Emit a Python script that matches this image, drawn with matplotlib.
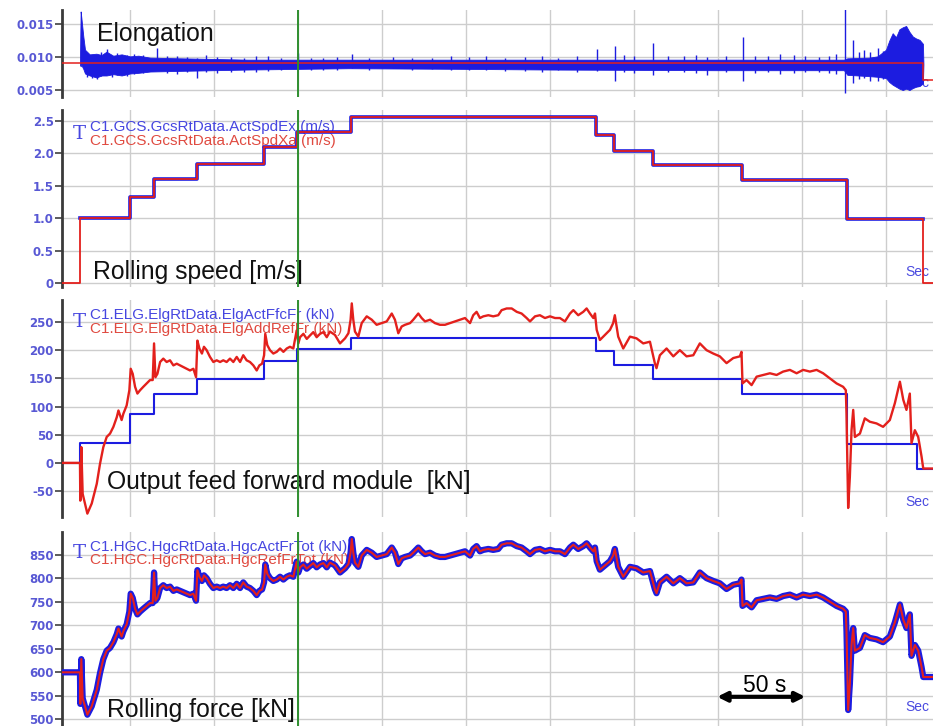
import numpy as np
import matplotlib
matplotlib.use("Agg")
import matplotlib.pyplot as plt

# ---- data (time in s) ----
# elongation: noisy blue signal given as envelope + single spikes, red reference
elong_t = [20.2, 20.6, 21.0, 22.2, 23.2, 26, 30, 33, 36, 40, 45, 50, 55, 62, 80, 100, 120, 150, 180,
           250, 300, 400, 475, 477, 490, 495, 500, 502, 504, 506, 508, 510, 512, 514, 516, 518, 520, 522, 522.3]
elong_lo = [0.0088, 0.0086, 0.0088, 0.0082, 0.0075, 0.0072, 0.0069, 0.0072, 0.0072, 0.0074, 0.0072, 0.0075,
            0.0076, 0.0078, 0.0079, 0.0080, 0.0081, 0.0082, 0.0083, 0.0082, 0.0081, 0.0080, 0.0080, 0.0073,
            0.0071, 0.0070, 0.0068, 0.0062, 0.0058, 0.0055, 0.0052, 0.0050, 0.0052, 0.0050, 0.0053, 0.0055,
            0.0056, 0.0060, 0.0088]
elong_hi = [0.0095, 0.0169, 0.0160, 0.0131, 0.0111, 0.0104, 0.0105, 0.0103, 0.0108, 0.0102, 0.0104, 0.0101,
            0.0102, 0.0099, 0.0098, 0.0097, 0.0096, 0.0096, 0.0096, 0.0096, 0.0096, 0.0096, 0.0096, 0.0098,
            0.0099, 0.0101, 0.0111, 0.0125, 0.0136, 0.0130, 0.0142, 0.0145, 0.0147, 0.0138, 0.0131, 0.0128,
            0.0126, 0.0120, 0.0090]
spike_t = [24.5, 27.5, 30.2, 33.0, 36.1, 39.0, 42.0, 48.0, 52.5, 58.0, 65.9, 72.0, 78.0, 84.0, 89.7, 95.0,
           102.0, 110.0, 118.0, 125.0, 132.0, 140.0, 150.2, 158.0, 165.0, 173.0, 181.9, 192.0, 206.7,
           218.0, 230.0, 241.0, 252.0, 262.0, 273.0, 285.0, 295.0, 305.0, 316.0, 327.7, 338.6, 344.0,
           350.0, 361.1, 370.0, 380.0, 387.0, 393.2, 405.0, 414.6, 422.0, 430.0, 437.0, 445.0, 452.0,
           460.0, 466.0, 470.0, 475.5, 480.5, 484.0, 487.0, 490.4, 495.4, 498.0]
spike_lo = [0.0070, 0.0068, 0.0066, 0.0071, 0.0074, 0.0070, 0.0073, 0.0071, 0.0074, 0.0076, 0.0080, 0.0076,
            0.0075, 0.0077, 0.0068, 0.0078, 0.0076, 0.0077, 0.0078, 0.0077, 0.0079, 0.0080, 0.0082, 0.0080,
            0.0081, 0.0081, 0.0083, 0.0081, 0.0084, 0.0081, 0.0082, 0.0080, 0.0081, 0.0080, 0.0079, 0.0079,
            0.0078, 0.0080, 0.0078, 0.0079, 0.0063, 0.0077, 0.0076, 0.0072, 0.0077, 0.0077, 0.0076, 0.0073,
            0.0077, 0.0063, 0.0076, 0.0077, 0.0075, 0.0076, 0.0077, 0.0077, 0.0076, 0.0075, 0.0046, 0.0060,
            0.0066, 0.0068, 0.0064, 0.0063, 0.0066]
spike_hi = [0.0106, 0.0103, 0.0100, 0.0107, 0.0112, 0.0101, 0.0106, 0.0103, 0.0104, 0.0103, 0.0114, 0.0102,
            0.0101, 0.0100, 0.0098, 0.0103, 0.0100, 0.0100, 0.0099, 0.0101, 0.0101, 0.0099, 0.0106, 0.0099,
            0.0099, 0.0100, 0.0105, 0.0099, 0.0100, 0.0099, 0.0099, 0.0101, 0.0100, 0.0101, 0.0099, 0.0100,
            0.0102, 0.0099, 0.0101, 0.0112, 0.0116, 0.0103, 0.0102, 0.0121, 0.0101, 0.0101, 0.0103, 0.0100,
            0.0102, 0.0130, 0.0101, 0.0101, 0.0104, 0.0103, 0.0101, 0.0100, 0.0102, 0.0104, 0.0180, 0.0126,
            0.0108, 0.0110, 0.0108, 0.0113, 0.0109]
elong_ref_t = [9.5, 522.2, 528]
elong_ref = [0.0091, 0.0065, 0.0065]

# rolling speed steps (m/s)
speed_t = [9.5, 20.2, 50.0, 64.3, 89.9, 129.8, 149.4, 181.5, 327.4, 338.1, 361.3, 414.3, 476.8, 522.0, 528]
speed_ref = [0, 1.00, 1.33, 1.60, 1.83, 2.10, 2.33, 2.56, 2.28, 2.04, 1.82, 1.59, 0.99, 0.0, 0.0]
speed_act_t = [20.2, 50.0, 64.3, 89.9, 129.8, 149.4, 181.5, 327.4, 338.1, 361.3, 414.3, 476.8, 522.0]
speed_act = [1.00, 1.33, 1.60, 1.83, 2.10, 2.33, 2.56, 2.28, 2.04, 1.82, 1.59, 0.99, 0.99]

# feed forward (kN): blue steps, red reference
ffwd_act_t = [9.5, 20.2, 50.0, 64.3, 89.9, 129.8, 149.4, 181.5, 327.4, 338.1, 361.3, 414.3, 476.8, 518.4, 528]
ffwd_act = [0, 35, 86, 122, 149, 181, 202, 221, 198, 174, 149, 122, 34, -10, -10]

ffwd_t = [9.5, 20.2, 20.4, 21.0, 21.8, 24.6, 27.2, 30.2, 32.1, 34.1,
          36.1, 38.1, 40.1, 42.1, 43.1, 45.0, 46.0, 48.0, 49.6, 50.4,
          51.6, 53.0, 54.4, 56.0, 57.9, 59.9, 61.9, 63.5, 64.3, 65.1,
          66.3, 67.9, 69.8, 71.8, 73.8, 75.8, 77.8, 79.8, 81.7, 83.7,
          85.7, 87.7, 89.3, 90.1, 91.3, 92.8, 94.0, 95.6, 97.6, 99.6,
          101.6, 103.6, 105.5, 107.5, 109.5, 111.5, 113.5, 115.5, 117.4, 119.4,
          121.4, 123.4, 125.4, 127.0, 128.6, 129.8, 130.5, 131.7, 133.3, 135.3,
          137.3, 139.3, 141.3, 143.3, 145.2, 147.2, 149.2, 150.2, 151.2, 153.2,
          155.2, 157.1, 159.1, 161.1, 163.1, 165.1, 167.1, 169.0, 172.0, 175.0,
          178.0, 180.0, 181.3, 182.0, 182.9, 183.9, 185.9, 187.9, 190.9, 193.9,
          196.8, 199.8, 202.8, 205.8, 207.7, 209.7, 211.7, 213.7, 216.7, 218.6,
          221.6, 223.6, 225.6, 228.6, 231.5, 234.5, 237.5, 240.5, 243.4, 246.4,
          249.4, 252.4, 254.3, 256.3, 258.3, 260.3, 263.3, 266.2, 269.2, 271.2,
          274.2, 277.2, 280.2, 283.1, 286.1, 288.1, 291.1, 294.0, 297.0, 300.0,
          303.0, 305.9, 308.9, 311.9, 313.9, 316.8, 319.8, 321.8, 323.8, 325.8,
          326.8, 327.8, 329.7, 331.7, 335.7, 337.6, 338.6, 340.6, 343.6, 347.6,
          351.5, 355.5, 359.5, 362.4, 363.4, 365.4, 369.4, 373.4, 377.3, 381.3,
          385.3, 389.2, 393.2, 397.2, 401.1, 405.1, 409.1, 413.0, 414.0, 414.6,
          417.0, 420.0, 423.0, 426.9, 430.9, 434.9, 438.8, 442.8, 446.8, 450.7,
          454.7, 458.7, 462.6, 466.6, 470.6, 474.5, 476.1, 476.5, 477.5, 478.5,
          479.5, 480.5, 481.5, 484.5, 487.4, 490.4, 494.4, 498.3, 502.3, 505.3,
          508.3, 510.3, 512.2, 514.2, 515.2, 517.2, 519.2, 521.2, 522.2, 528.0]
ffwd_ref = [0, 0, -67, 28, -55, -90, -72, -37, -2, 28,
            46, 52, 64, 81, 93, 76, 87, 102, 129, 167,
            158, 135, 123, 129, 135, 141, 147, 147, 212, 152,
            158, 179, 185, 179, 182, 173, 176, 173, 170, 167,
            164, 167, 152, 217, 203, 194, 206, 200, 188, 179,
            182, 179, 182, 179, 185, 179, 188, 179, 191, 182,
            179, 173, 164, 173, 176, 191, 229, 209, 200, 194,
            197, 203, 197, 203, 206, 203, 235, 212, 223, 229,
            220, 226, 232, 223, 229, 232, 223, 233, 227, 212,
            221, 230, 254, 283, 254, 233, 224, 248, 260, 254,
            245, 248, 251, 265, 254, 230, 242, 245, 248, 254,
            265, 257, 251, 254, 248, 245, 245, 248, 251, 254,
            257, 248, 262, 268, 257, 260, 262, 260, 262, 271,
            274, 274, 268, 265, 257, 251, 260, 262, 257, 260,
            257, 257, 251, 265, 271, 262, 268, 274, 265, 257,
            265, 236, 218, 224, 236, 248, 262, 224, 203, 224,
            221, 212, 215, 177, 168, 191, 203, 189, 200, 189,
            191, 212, 200, 194, 189, 177, 186, 189, 197, 141,
            147, 138, 153, 156, 159, 156, 162, 165, 159, 165,
            162, 165, 159, 150, 141, 135, 129, 88, -80, -25,
            58, 94, 46, 52, 79, 73, 70, 64, 76, 106,
            144, 112, 94, 123, 35, 58, 46, 11, -10, -10]

# rolling force (kN), same sample times as the feed forward trace
force = [600, 600, 533, 628, 545, 510, 528, 563, 598, 628,
         646, 652, 664, 681, 693, 676, 687, 702, 729, 767,
         758, 735, 723, 729, 735, 741, 747, 747, 812, 752,
         758, 779, 785, 779, 782, 773, 776, 773, 770, 767,
         764, 767, 752, 817, 803, 794, 806, 800, 788, 779,
         782, 779, 782, 779, 785, 779, 788, 779, 791, 782,
         779, 773, 764, 773, 776, 791, 829, 809, 800, 794,
         797, 803, 797, 803, 806, 803, 835, 812, 823, 829,
         820, 826, 832, 823, 829, 832, 823, 833, 827, 812,
         821, 830, 854, 883, 854, 833, 824, 848, 860, 854,
         845, 848, 851, 865, 854, 830, 842, 845, 848, 854,
         865, 857, 851, 854, 848, 845, 845, 848, 851, 854,
         857, 848, 862, 868, 857, 860, 862, 860, 862, 871,
         874, 874, 868, 865, 857, 851, 860, 862, 857, 860,
         857, 857, 851, 865, 871, 862, 868, 874, 865, 857,
         865, 836, 818, 824, 836, 848, 862, 824, 803, 824,
         821, 812, 815, 777, 768, 791, 803, 789, 800, 789,
         791, 812, 800, 794, 789, 777, 786, 789, 797, 741,
         747, 738, 753, 756, 759, 756, 762, 765, 759, 765,
         762, 765, 759, 750, 741, 735, 729, 688, 520, 575,
         658, 694, 646, 652, 679, 673, 670, 664, 676, 706,
         744, 712, 694, 723, 635, 658, 646, 611, 590, 590]

panel_titles = ["Elongation", "Rolling speed [m/s]", "Output feed forward module  [kN]", "Rolling force [kN]"]
legend_blue = [None, "C1.GCS.GcsRtData.ActSpdEx (m/s)", "C1.ELG.ElgRtData.ElgActFfcFr (kN)",
               "C1.HGC.HgcRtData.HgcActFrTot (kN)"]
legend_red = [None, "C1.GCS.GcsRtData.ActSpdXa (m/s)", "C1.ELG.ElgRtData.ElgAddRefFr (kN)",
              "C1.HGC.HgcRtData.HgcRefFrTot (kN)"]
yticks = [[0.005, 0.010, 0.015], [0, 0.5, 1.0, 1.5, 2.0, 2.5],
          [-50, 0, 50, 100, 150, 200, 250], [500, 550, 600, 650, 700, 750, 800, 850]]
ytick_labels = [["0.005", "0.010", "0.015"], ["0", "0.5", "1.0", "1.5", "2.0", "2.5"],
                ["-50", "0", "50", "100", "150", "200", "250"],
                ["500", "550", "600", "650", "700", "750", "800", "850"]]
ylims = [(0.00394, 0.01712), (-0.062, 2.67), (-96, 289), (486, 898)]

BLUE = "#1c1ce0"
RED = "#e3201c"
TICKC = "#5858d4"
GRIDC = "#cdcdcd"
SANS = ["Liberation Sans", "DejaVu Sans"]

fig = plt.figure(figsize=(9.33, 7.26), dpi=100)
boxes = [(97, 10), (287, 110), (517, 300), (726, 532)]  # pixel bottom, top
axes = []
for i, (bot, top) in enumerate(boxes):
    ax = fig.add_axes([62 / 933, 1 - bot / 726, 1 - 62 / 933, (bot - top) / 726])
    ax.set_xlim(9.5, 528)
    ax.set_ylim(*ylims[i])
    ax.set_xticks(np.arange(50, 501, 50))
    ax.set_xticklabels([])
    ax.tick_params(axis="x", length=0)
    ax.set_yticks(yticks[i])
    ax.set_yticklabels(ytick_labels[i], fontsize=8.5, fontweight="bold", color=TICKC, family="DejaVu Sans")
    ax.tick_params(axis="y", direction="out", length=5, width=1.2, color="#404040", pad=1)
    ax.grid(True, color=GRIDC, lw=1)
    ax.set_axisbelow(True)
    for s in ["top", "right", "bottom"]:
        ax.spines[s].set_visible(False)
    ax.spines["left"].set_color("#3a3a3a")
    ax.spines["left"].set_linewidth(2)
    ax.axvline(150, color="#2f8f2f", lw=1.4, zorder=6)
    axes.append(ax)

# panel 1 - elongation
ax = axes[0]
ax.fill_between(elong_t, elong_lo, elong_hi, color=BLUE, lw=0.6, zorder=3)
ax.vlines(spike_t, spike_lo, spike_hi, color=BLUE, lw=1, zorder=3)
ax.plot(elong_ref_t, elong_ref, drawstyle="steps-post", color=RED, lw=1.1, zorder=4)

# panel 2 - speed
ax = axes[1]
ax.plot(speed_act_t, speed_act, drawstyle="steps-post", color=BLUE, lw=2.6, zorder=3)
ax.plot(speed_t, speed_ref, drawstyle="steps-post", color=RED, lw=1.3, zorder=4)

# panel 3 - feed forward
ax = axes[2]
ax.plot(ffwd_act_t, ffwd_act, drawstyle="steps-post", color=BLUE, lw=1.5, zorder=3)
ax.plot(ffwd_t, ffwd_ref, color=RED, lw=1.7, zorder=4)

# panel 4 - force
ax = axes[3]
ax.plot(ffwd_t, force, color=BLUE, lw=4.5, zorder=3, solid_joinstyle="round")
ax.plot(ffwd_t, force, color=RED, lw=1.5, zorder=4)

# titles inside the panels
title_pos = [(30.4, 0.0135), (28.0, 0.17), (36.3, -34), (36.3, 521)]
for ax, txt, (tx, ty) in zip(axes, panel_titles, title_pos):
    ax.text(tx, ty, txt, fontsize=17.8, family=SANS, color="#111111", va="center", ha="left", zorder=2)

# channel names
leg_pos = [None, (2.41, 2.19, 2.30), (262.4, 237.6, 250), (866.8, 839.5, 853)]
for i in range(1, 4):
    ax = axes[i]
    yb, yr, ym = leg_pos[i]
    ax.text(26.2, yb, legend_blue[i], fontsize=11, family=SANS, color="#4646e0", va="center", zorder=2)
    ax.text(26.2, yr, legend_red[i], fontsize=11, family=SANS, color="#e04a40", va="center", zorder=2)
    ax.text(19.6, ym, "T", fontsize=14, family="DejaVu Serif", color="#4646e0", va="center", ha="center",
            zorder=2)

# "Sec" unit labels, cut by the right edge
sec_y = [0.00606, 0.17, -69.5, 527]
for ax, sy in zip(axes, sec_y):
    ax.text(511.3, sy, "Sec", fontsize=10, family=SANS, color="#4a4ae0", va="center", ha="left",
            clip_on=False, zorder=2)

# 50 s scale bar
ax = axes[3]
ax.annotate("", xy=(399.5, 548), xytext=(452, 548),
            arrowprops=dict(arrowstyle="<|-|>", lw=3, color="black", mutation_scale=14,
                            shrinkA=0, shrinkB=0), zorder=7)
ax.text(427.9, 573, "50 s", fontsize=16.5, family=SANS, ha="center", va="center", zorder=7)

fig.savefig("out.png", dpi=100)
